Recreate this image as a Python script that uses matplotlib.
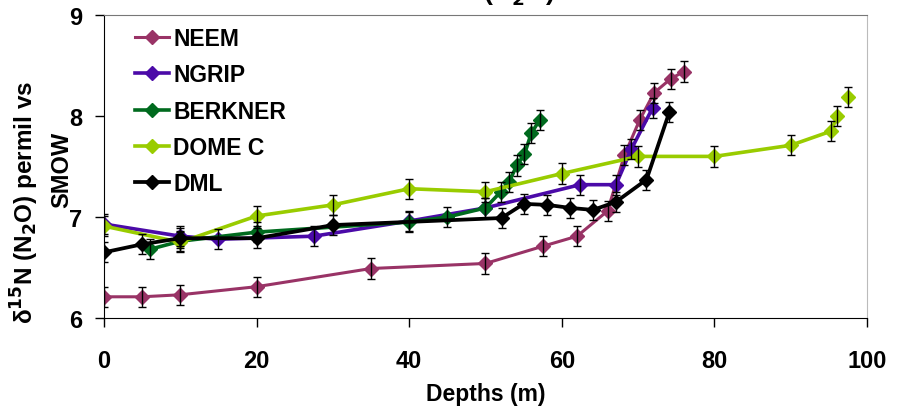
import numpy as np
import matplotlib.pyplot as plt

plt.rcParams["font.family"] = ["Liberation Sans", "DejaVu Sans"]
plt.rcParams["font.weight"] = "bold"

# NEEM
neem_depth = [0, 5, 10, 20, 35, 50, 57.5, 62, 66, 68.2, 70.2, 72.1, 74.3, 76]
neem_d15n = [6.21, 6.21, 6.23, 6.31, 6.49, 6.54, 6.71, 6.81, 7.06, 7.61, 7.96, 8.23, 8.37, 8.44]

# NGRIP
ngrip_depth = [0, 10, 15, 27.5, 40, 50, 62.4, 67.1, 69.1, 71.9]
ngrip_d15n = [6.93, 6.81, 6.78, 6.81, 6.96, 7.09, 7.32, 7.32, 7.67, 8.08]

# BERKNER
berkner_depth = [6, 10, 20, 40, 45, 50, 52, 53.1, 54.1, 55.1, 56, 57.1]
berkner_d15n = [6.68, 6.76, 6.85, 6.95, 7.0, 7.09, 7.25, 7.35, 7.51, 7.62, 7.83, 7.96]

# DOME C (last point not joined to the line)
domec_depth = [0, 10, 20, 30, 40, 50, 60, 70, 80, 90, 95.3, 96.1, 97.5]
domec_d15n = [6.91, 6.75, 7.01, 7.12, 7.28, 7.25, 7.43, 7.60, 7.60, 7.71, 7.85, 8.0, 8.19]

# DML
dml_depth = [0, 5, 10, 20, 30, 52.1, 55, 58.1, 61.1, 64.1, 67.1, 71.1, 74.1]
dml_d15n = [6.65, 6.73, 6.79, 6.79, 6.92, 6.99, 7.13, 7.12, 7.09, 7.07, 7.15, 7.37, 8.04]

err = 0.1

series = [
    ("NEEM", neem_depth, neem_d15n, "#993366", 2.2),
    ("NGRIP", ngrip_depth, ngrip_d15n, "#4B0AA8", 2.6),
    ("BERKNER", berkner_depth, berkner_d15n, "#006A1E", 2.6),
    ("DOME C", domec_depth, domec_d15n, "#99CC00", 2.6),
    ("DML", dml_depth, dml_d15n, "black", 2.7),
]

fig = plt.figure(figsize=(9, 4.1), dpi=100)
ax = fig.add_axes([104 / 900, 1 - 319 / 410, 763 / 900, 303 / 410])

for name, x, y, color, lw in series:
    if name == "DOME C":
        ax.plot(x[:-1], y[:-1], color=color, lw=lw, marker="D", ms=7,
                label=name)
        ax.plot(x[-1:], y[-1:], color=color, lw=0, marker="D", ms=7)
    else:
        ax.plot(x, y, color=color, lw=lw, marker="D", ms=7, label=name)
    ax.errorbar(x, y, yerr=err, fmt="none", ecolor="black", elinewidth=1,
                capsize=3, capthick=1, zorder=5)

ax.set_xlim(0, 100)
ax.set_ylim(6, 9)
ax.set_xticks([0, 20, 40, 60, 80, 100])
ax.set_yticks([6, 7, 8, 9])
ax.tick_params(axis="x", direction="out", length=6.5, width=1, pad=16,
               labelsize=17)
ax.tick_params(axis="y", direction="out", length=6.5, width=1, pad=9,
               labelsize=17)

ax.spines["left"].set_color("black")
ax.spines["bottom"].set_color("black")
ax.spines["top"].set_color("#777777")
ax.spines["right"].set_color("#bbbbbb")

ax.set_xlabel("Depths (m)", fontsize=16.5, fontweight="bold", labelpad=7)

fig.text(25 / 900, 1 - 202 / 410, r"δ$^{\mathbf{15}}$N (N$_{\mathbf{2}}$O) permil vs",
         rotation=90, ha="center", va="center", fontsize=17.5, fontweight="bold")
fig.text(62 / 900, 1 - 170 / 410, "SMOW", rotation=90, ha="center",
         va="center", fontsize=17, fontweight="bold")

fig.text(484 / 900, 1 - 1 / 410, r"δ$^{\mathbf{15}}$N (N$_{\mathbf{2}}$O)",
         ha="center", va="baseline", fontsize=19, fontweight="bold")

ax.legend(loc="upper left", bbox_to_anchor=(0.04, 0.96), frameon=False,
          fontsize=16.5, handlelength=1.5, handletextpad=0.2,
          labelspacing=0.58, borderaxespad=0, borderpad=0)

fig.savefig("out.png", dpi=100)
